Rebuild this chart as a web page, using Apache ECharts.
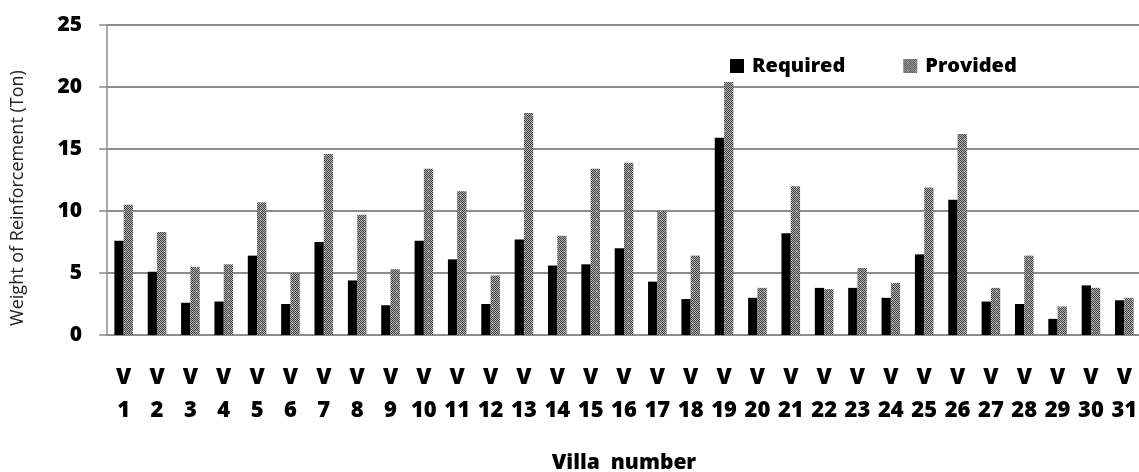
<!DOCTYPE html>
<html>
<head>
<meta charset="utf-8">
<script src="https://cdn.jsdelivr.net/npm/echarts@6/dist/echarts.min.js"></script>
<style>
  html, body { margin: 0; padding: 0; background: #fff; }
  #chart { width: 1139px; height: 472px; }
</style>
</head>
<body>
<div id="chart"></div>
<script>
// Villa labels on the category axis
const villas = ["V1","V2","V3","V4","V5","V6","V7","V8","V9","V10","V11","V12","V13","V14","V15","V16",
                "V17","V18","V19","V20","V21","V22","V23","V24","V25","V26","V27","V28","V29","V30","V31"];

// Weight of reinforcement (ton) per villa
const required = [7.6, 5.1, 2.6, 2.7, 6.4, 2.5, 7.5, 4.4, 2.4, 7.6, 6.1, 2.5, 7.7, 5.6, 5.7, 7.0,
                  4.3, 2.9, 15.9, 3.0, 8.2, 3.8, 3.8, 3.0, 6.5, 10.9, 2.7, 2.5, 1.3, 4.0, 2.8];
const provided = [10.5, 8.3, 5.5, 5.7, 10.7, 5.0, 14.6, 9.7, 5.3, 13.4, 11.6, 4.8, 17.9, 8.0, 13.4, 13.9,
                  10.0, 6.4, 20.4, 3.8, 12.0, 3.7, 5.4, 4.2, 11.9, 16.2, 3.8, 6.4, 2.3, 3.8, 3.0];

const yTicks = [0, 5, 10, 15, 20, 25];

// Dotted grey fill used for the "Provided" bars
function makePattern() {
  const c = document.createElement('canvas');
  c.width = 8; c.height = 8;
  const ctx = c.getContext('2d');
  for (let y = 0; y < 8; y++) {
    for (let x = 0; x < 8; x++) {
      ctx.fillStyle = ((x + y) % 2 === 0) ? '#444444' : '#b0b0b0';
      ctx.fillRect(x, y, 1, 1);
    }
  }
  ctx.fillStyle = '#ffffff';
  ctx.fillRect(4, 3, 1, 1);
  return c;
}
const patternFill = { image: makePattern(), repeat: 'repeat' };

const font = '"Open Sans", Lato, sans-serif';
const heavy = 800;
const chart = echarts.init(document.getElementById('chart'), null, { renderer: 'canvas' });

chart.setOption({
  animation: false,
  backgroundColor: '#ffffff',
  legend: {
    left: 730, top: 56, padding: 0,
    itemWidth: 14, itemHeight: 14, itemGap: 58,
    icon: 'rect',
    textStyle: { fontFamily: font, fontWeight: heavy, fontSize: 20, color: '#000', padding: [0, 0, 0, 3] },
    data: ['Required', 'Provided']
  },
  grid: { left: 107, top: 25, width: 1034, height: 310, containLabel: false, outerBoundsMode: 'none' },
  xAxis: {
    type: 'category',
    data: villas,
    boundaryGap: true,
    name: 'Villa  number',
    nameLocation: 'middle',
    nameGap: 118,
    nameTextStyle: { fontFamily: font, fontWeight: heavy, fontSize: 21, color: '#000' },
    axisLine: { lineStyle: { color: '#8c8c8c', width: 2 } },
    axisTick: { show: false },
    axisLabel: {
      interval: 0,
      margin: 26,
      fontFamily: font, fontWeight: heavy, fontSize: 22, color: '#000',
      lineHeight: 33,
      formatter: v => 'V\n' + v.slice(1)
    }
  },
  yAxis: {
    type: 'value',
    min: 0, max: 25, interval: 5,
    name: 'Weight of Reinforcement (Ton)',
    nameLocation: 'middle',
    nameGap: 80,
    nameTextStyle: { fontFamily: '"Open Sans", sans-serif', fontSize: 18, color: '#222', padding: [0, 36, 0, 0] },
    axisLine: { show: true, lineStyle: { color: '#8c8c8c', width: 1.5 } },
    axisTick: { show: true, inside: false, length: 8, lineStyle: { color: '#8c8c8c', width: 1.5 } },
    splitLine: { lineStyle: { color: '#8c8c8c', width: 2 } },
    axisLabel: {
      margin: 25,
      fontFamily: font, fontWeight: heavy, fontSize: 21, color: '#000',
      formatter: v => yTicks.includes(v) ? String(v) : ''
    }
  },
  series: [
    {
      name: 'Required', type: 'bar', data: required,
      barWidth: 9.3, barGap: '0%',
      itemStyle: { color: '#000000' }
    },
    {
      name: 'Provided', type: 'bar', data: provided,
      barWidth: 9.3, barGap: '0%',
      itemStyle: { color: patternFill }
    }
  ]
});
</script>
</body>
</html>
